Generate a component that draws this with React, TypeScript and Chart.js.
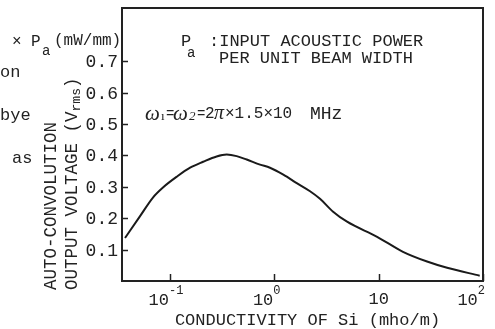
import { useEffect, useRef } from 'react';
import { Chart, registerables } from 'chart.js';

Chart.register(...registerables);

const MONO = '"Liberation Mono", "DejaVu Sans Mono", monospace';
const SERIF = '"Liberation Serif", "DejaVu Serif", serif';
const INK = '#222';

// Conductivity of Si (mho/m)
const conductivity = [0.0371, 0.0515, 0.0687, 0.0857, 0.117, 0.156, 0.208, 0.28, 0.35, 0.436, 0.544, 0.73, 0.909, 1.22, 1.64, 2.2, 2.74, 3.66, 4.98, 9.66, 17.1, 29.1, 45.3, 93];
// Auto-convolution output voltage (Vrms) x Pa (mW/mm)
const voltage = [0.137, 0.206, 0.266, 0.298, 0.333, 0.361, 0.38, 0.397, 0.403, 0.398, 0.387, 0.371, 0.361, 0.339, 0.312, 0.286, 0.262, 0.221, 0.189, 0.141, 0.093, 0.062, 0.042, 0.017];

const yTickValues = [0.1, 0.2, 0.3, 0.4, 0.5, 0.6, 0.7];
const yTickLabels = ['0.1', '0.2', '0.3', '0.4', '0.5', '0.6', '0.7'];
const xTickValues = [0.1, 1, 10, 100];
const xTickBase = ['10', '10', '10', '10'];
const xTickExp = ['-1', '0', '', '2'];

const xTitle = 'CONDUCTIVITY OF Si (mho/m)';
const yTitle1 = 'AUTO-CONVOLUTION';
const yTitle2a = 'OUTPUT VOLTAGE (V';
const yTitle2sub = 'rms';
const yTitle2b = ')';
const noteLine1 = ':INPUT ACOUSTIC POWER';
const noteLine2 = 'PER UNIT BEAM WIDTH';
const sideFragments = ['on', 'bye', 'as', 're'];

const overlay = {
  id: 'overlay',
  afterDraw(chart: any) {
    const { ctx, chartArea: a, scales } = chart;
    const xs = scales.x;
    const ys = scales.y;
    ctx.save();
    ctx.strokeStyle = INK;
    ctx.fillStyle = INK;
    ctx.lineWidth = 2;
    ctx.strokeRect(a.left, a.top, a.right - a.left, a.bottom - a.top);

    // inward ticks + y labels
    ctx.lineWidth = 1.5;
    ctx.textBaseline = 'middle';
    ctx.textAlign = 'right';
    ctx.font = `18px ${MONO}`;
    yTickValues.forEach((v, i) => {
      const py = Math.round(ys.getPixelForValue(v)) + 0.5;
      ctx.beginPath();
      ctx.moveTo(a.left, py);
      ctx.lineTo(a.left + 6, py);
      ctx.stroke();
      ctx.fillText(yTickLabels[i], a.left - 4, py + 1);
    });
    xTickValues.forEach((v) => {
      const px = Math.round(xs.getPixelForValue(v)) + 0.5;
      ctx.beginPath();
      ctx.moveTo(px, a.bottom);
      ctx.lineTo(px, a.bottom - 7);
      ctx.stroke();
    });

    // x tick labels with exponents
    xTickValues.forEach((v, i) => {
      const px = xs.getPixelForValue(v);
      ctx.font = `17px ${MONO}`;
      const bw = ctx.measureText(xTickBase[i]).width;
      if (!xTickExp[i]) {
        ctx.textAlign = 'center';
        ctx.fillText(xTickBase[i], px, a.bottom + 18);
        return;
      }
      ctx.font = `12px ${MONO}`;
      const ew = ctx.measureText(xTickExp[i]).width;
      let start = px - bw - 1;
      if (start + bw + ew > a.right + 2) start = a.right + 2 - bw - ew;
      ctx.textAlign = 'left';
      ctx.font = `17px ${MONO}`;
      ctx.fillText(xTickBase[i], start, a.bottom + 19);
      ctx.font = `12px ${MONO}`;
      ctx.fillText(xTickExp[i], start + bw, a.bottom + 10);
    });

    // x title
    ctx.font = `17px ${MONO}`;
    ctx.textAlign = 'center';
    ctx.fillText(xTitle, (a.left + a.right) / 2 + 5, 320);

    // y title (rotated, bottom aligned)
    ctx.save();
    ctx.translate(51, 290);
    ctx.rotate(-Math.PI / 2);
    ctx.textAlign = 'left';
    ctx.font = `17.5px ${MONO}`;
    ctx.fillText(yTitle1, 0, 0);
    ctx.restore();
    ctx.save();
    ctx.translate(72, 290);
    ctx.rotate(-Math.PI / 2);
    ctx.textAlign = 'left';
    ctx.font = `17.5px ${MONO}`;
    ctx.fillText(yTitle2a, 0, 0);
    let w = ctx.measureText(yTitle2a).width;
    ctx.font = `13px ${MONO}`;
    ctx.fillText(yTitle2sub, w, 5);
    w += ctx.measureText(yTitle2sub).width;
    ctx.font = `17.5px ${MONO}`;
    ctx.fillText(yTitle2b, w, 0);
    ctx.restore();

    // unit label top-left
    ctx.textAlign = 'left';
    ctx.font = `16px ${MONO}`;
    ctx.fillText('\u00d7', 12, 42);
    ctx.fillText('P', 31, 42);
    ctx.font = `14px ${MONO}`;
    ctx.fillText('a', 42, 51);
    ctx.font = `16px ${MONO}`;
    ctx.fillText('(mW/mm)', 54, 41);

    // annotation: Pa definition
    ctx.font = `17px ${MONO}`;
    ctx.fillText('P', 181, 41);
    ctx.font = `14px ${MONO}`;
    ctx.fillText('a', 187, 53);
    ctx.font = `17px ${MONO}`;
    ctx.fillText(noteLine1, 209, 41);
    ctx.fillText(noteLine2, 219, 58);

    // omega line
    const yy = 114;
    const put = (t: string, font: string, x: number, dy = 0) => {
      ctx.font = font;
      ctx.fillText(t, x, yy + dy);
    };
    put('\u03c9', `italic 21px ${SERIF}`, 145);
    put('\u0131', `13px ${SERIF}`, 161, 3);
    put('=', `14px ${MONO}`, 166);
    put('\u03c9', `italic 21px ${SERIF}`, 173);
    put('2', `italic 13px ${SERIF}`, 189, 3);
    put('=', `14px ${MONO}`, 197);
    put('2', `16px ${MONO}`, 205);
    put('\u03c0', `italic 20px ${SERIF}`, 214);
    put('\u00d71.5\u00d710', `16px ${MONO}`, 225);
    put('MHz', `18px ${MONO}`, 310);

    // fragments of neighbouring page text
    ctx.font = `17px ${MONO}`;
    ctx.fillText(sideFragments[0], 0, 72);
    ctx.fillText(sideFragments[1], 0, 115);
    ctx.fillText(sideFragments[2], 12, 158);
    ctx.fillText(sideFragments[3], 0, 333);
    ctx.restore();
  },
};

export default function App() {
  const ref = useRef<HTMLCanvasElement>(null);
  useEffect(() => {
    const chart = new Chart(ref.current as HTMLCanvasElement, {
      type: 'line',
      data: {
        datasets: [
          {
            data: conductivity.map((c, i) => ({ x: c, y: voltage[i] })),
            borderColor: '#1a1a1a',
            borderWidth: 2,
            pointRadius: 0,
            cubicInterpolationMode: 'monotone',
            fill: false,
          },
        ],
      },
      options: {
        animation: false,
        responsive: false,
        devicePixelRatio: 1,
        layout: { padding: { top: 8, right: 12, left: 0, bottom: 0 } },
        plugins: { legend: { display: false }, tooltip: { enabled: false } },
        scales: {
          x: {
            type: 'logarithmic',
            min: 0.0347,
            max: 100,
            ticks: { display: false },
            grid: { display: false },
            border: { display: false },
            afterFit: (s: any) => {
              s.height = 48;
            },
          },
          y: {
            type: 'linear',
            min: 0,
            max: 0.87,
            ticks: { display: false },
            grid: { display: false },
            border: { display: false },
            afterFit: (s: any) => {
              s.width = 122;
            },
          },
        },
      },
      plugins: [overlay],
    });
    return () => chart.destroy();
  }, []);
  return (
    <div style={{ position: 'fixed', left: 0, top: 0, width: 495, height: 329, background: '#fff' }}>
      <canvas ref={ref} width={495} height={329} style={{ display: 'block', width: 495, height: 329 }} />
    </div>
  );
}
